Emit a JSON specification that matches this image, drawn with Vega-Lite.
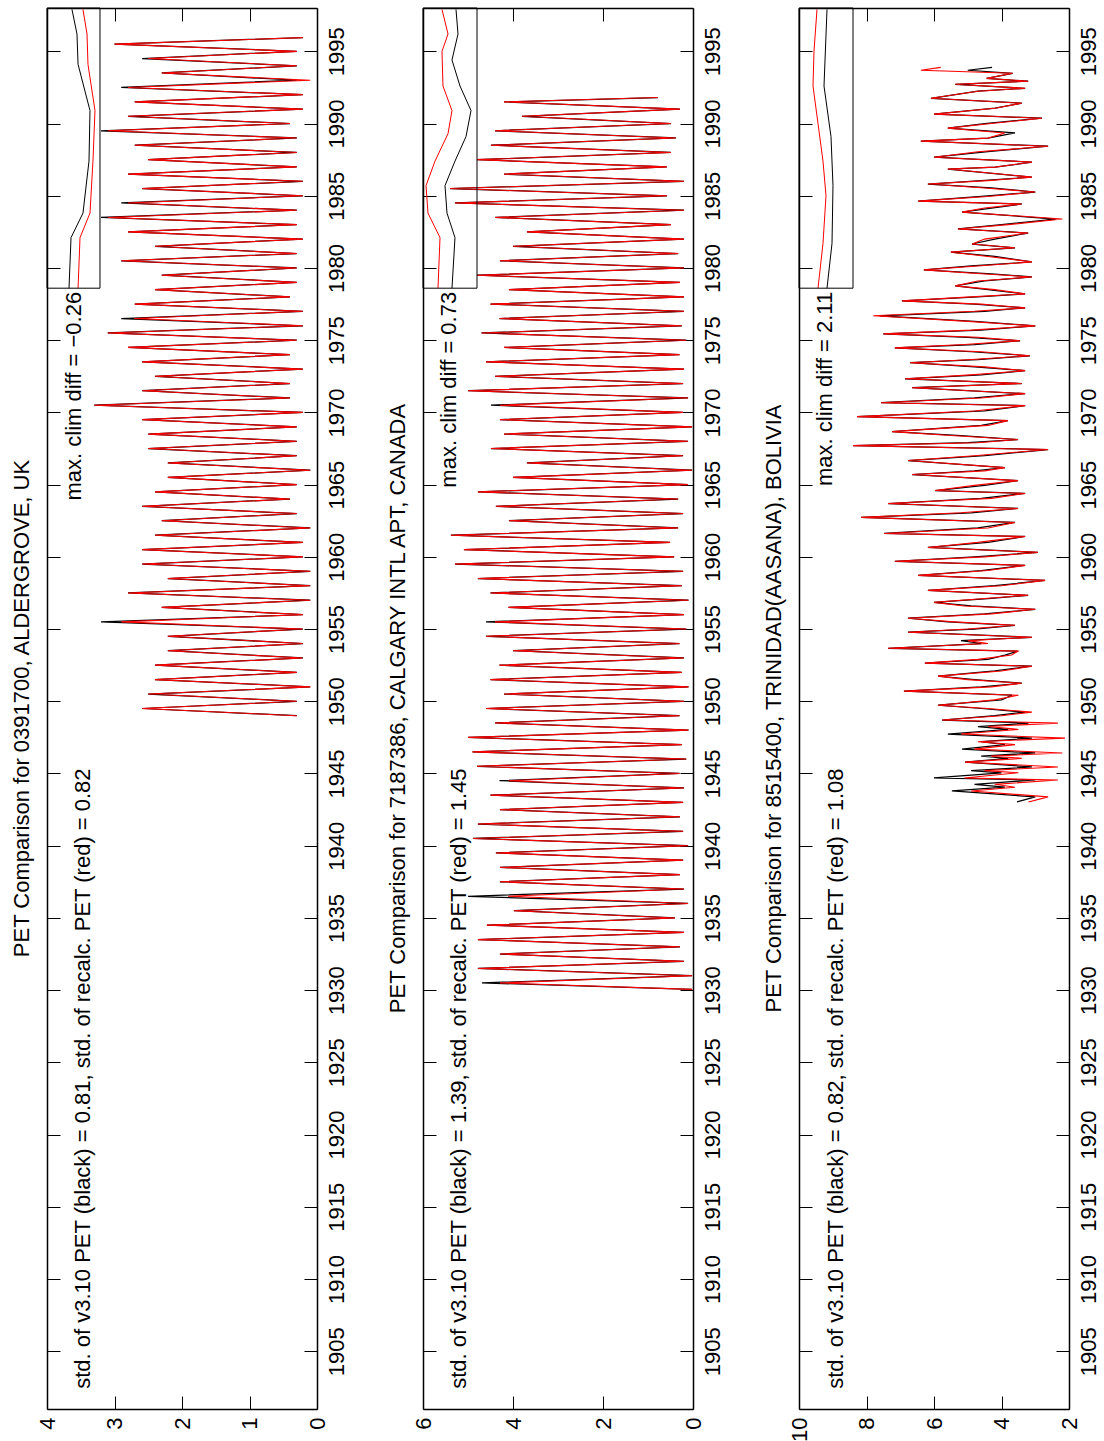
{
"$schema": "https://vega.github.io/schema/vega-lite/v6.json",
"padding": {"left": 10, "top": 7, "right": 0, "bottom": 0},
"background": "white",
"bounds": "flush",
"spacing": 106,
"config": {
  "font": "Liberation Sans",
  "view": {"stroke": null},
  "axis": {"grid": false, "title": null, "domainColor": "#000", "domainWidth": 1.5, "tickColor": "#000", "tickWidth": 1, "tickSize": -13, "labelFontSize": 22, "labelFont": "Liberation Sans", "labelColor": "#000", "labelFlush": false, "labelOverlap": false},
  "title": {"fontSize": 22, "fontWeight": "normal", "font": "Liberation Sans", "color": "#000"},
  "text": {"font": "Liberation Sans", "color": "#000"}
},
"datasets": {
"p1": [
{"t":1949,"b":0.3,"r":0.3},{"t":1949.5,"b":2.59,"r":2.59},{"t":1950,"b":0.3,"r":0.3},{"t":1950.5,"b":2.5,"r":2.5},{"t":1951,"b":0.1,"r":0.1},{"t":1951.5,"b":2.4,"r":2.4},{"t":1952,"b":0.3,"r":0.3},{"t":1952.5,"b":2.4,"r":2.4},{"t":1953,"b":0.21,"r":0.21},{"t":1953.5,"b":2.21,"r":2.21},{"t":1954,"b":0.21,"r":0.21},{"t":1954.5,"b":2.21,"r":2.21},{"t":1955,"b":0.21,"r":0.21},{"t":1955.5,"b":3.2,"r":2.9},{"t":1956,"b":0.21,"r":0.21},{"t":1956.5,"b":2.3,"r":2.3},{"t":1957,"b":0.1,"r":0.1},{"t":1957.5,"b":2.8,"r":2.8},{"t":1958,"b":0.1,"r":0.1},{"t":1958.5,"b":2.21,"r":2.21},{"t":1959,"b":0.1,"r":0.1},{"t":1959.5,"b":2.59,"r":2.59},{"t":1960,"b":0.21,"r":0.21},{"t":1960.5,"b":2.59,"r":2.59},{"t":1961,"b":0.21,"r":0.21},{"t":1961.5,"b":2.4,"r":2.4},{"t":1962,"b":0.1,"r":0.1},{"t":1962.5,"b":2.3,"r":2.3},{"t":1963,"b":0.3,"r":0.3},{"t":1963.5,"b":2.59,"r":2.59},{"t":1964,"b":0.4,"r":0.4},{"t":1964.5,"b":2.4,"r":2.4},{"t":1965,"b":0.3,"r":0.3},{"t":1965.5,"b":2.21,"r":2.21},{"t":1966,"b":0.1,"r":0.1},{"t":1966.5,"b":2.21,"r":2.21},{"t":1967,"b":0.3,"r":0.3},{"t":1967.5,"b":2.5,"r":2.5},{"t":1968,"b":0.3,"r":0.3},{"t":1968.5,"b":2.5,"r":2.5},{"t":1969,"b":0.3,"r":0.3},{"t":1969.5,"b":2.59,"r":2.59},{"t":1970,"b":0.21,"r":0.21},{"t":1970.5,"b":3.3,"r":3.3},{"t":1971,"b":0.4,"r":0.4},{"t":1971.5,"b":2.59,"r":2.59},{"t":1972,"b":0.4,"r":0.4},{"t":1972.5,"b":2.4,"r":2.4},{"t":1973,"b":0.21,"r":0.21},{"t":1973.5,"b":2.59,"r":2.59},{"t":1974,"b":0.4,"r":0.4},{"t":1974.5,"b":2.8,"r":2.8},{"t":1975,"b":0.3,"r":0.3},{"t":1975.5,"b":3.1,"r":3.1},{"t":1976,"b":0.21,"r":0.21},{"t":1976.5,"b":2.9,"r":2.71},{"t":1977,"b":0.21,"r":0.21},{"t":1977.5,"b":2.7,"r":2.7},{"t":1978,"b":0.4,"r":0.4},{"t":1978.5,"b":2.4,"r":2.4},{"t":1979,"b":0.3,"r":0.3},{"t":1979.5,"b":2.3,"r":2.3},{"t":1980,"b":0.3,"r":0.3},{"t":1980.5,"b":2.9,"r":2.9},{"t":1981,"b":0.3,"r":0.3},{"t":1981.5,"b":2.4,"r":2.4},{"t":1982,"b":0.21,"r":0.21},{"t":1982.5,"b":2.8,"r":2.8},{"t":1983,"b":0.3,"r":0.3},{"t":1983.5,"b":3.2,"r":3.1},{"t":1984,"b":0.3,"r":0.3},{"t":1984.5,"b":2.9,"r":2.8},{"t":1985,"b":0.21,"r":0.21},{"t":1985.5,"b":2.59,"r":2.59},{"t":1986,"b":0.21,"r":0.21},{"t":1986.5,"b":2.8,"r":2.8},{"t":1987,"b":0.3,"r":0.3},{"t":1987.5,"b":2.5,"r":2.5},{"t":1988,"b":0.3,"r":0.3},{"t":1988.5,"b":2.7,"r":2.7},{"t":1989,"b":0.3,"r":0.3},{"t":1989.5,"b":3.2,"r":3.1},{"t":1990,"b":0.4,"r":0.4},{"t":1990.5,"b":2.8,"r":2.8},{"t":1991,"b":0.21,"r":0.21},{"t":1991.5,"b":2.7,"r":2.7},{"t":1992,"b":0.21,"r":0.21},{"t":1992.5,"b":2.9,"r":2.8},{"t":1993,"b":0.3,"r":0.1},{"t":1993.5,"b":2.3,"r":2.3},{"t":1994,"b":0.3,"r":0.3},{"t":1994.5,"b":2.59,"r":2.5},{"t":1995,"b":0.3,"r":0.3},{"t":1995.5,"b":3.0,"r":3.0},{"t":1995.95,"b":0.21,"r":0.21}
],
"p2": [
{"t":1930.05,"b":0.02,"r":0.02},{"t":1930.5,"b":4.69,"r":4.29},{"t":1931,"b":0.02,"r":0.02},{"t":1931.5,"b":4.78,"r":4.78},{"t":1932,"b":0.2,"r":0.2},{"t":1932.5,"b":4.29,"r":4.29},{"t":1933,"b":0.29,"r":0.29},{"t":1933.5,"b":4.78,"r":4.78},{"t":1934,"b":0.2,"r":0.2},{"t":1934.5,"b":4.58,"r":4.58},{"t":1935,"b":0.4,"r":0.4},{"t":1935.5,"b":3.98,"r":3.98},{"t":1936,"b":0.11,"r":0.11},{"t":1936.5,"b":5.0,"r":4.11},{"t":1937,"b":0.2,"r":0.2},{"t":1937.5,"b":4.29,"r":4.29},{"t":1938,"b":0.29,"r":0.29},{"t":1938.5,"b":4.29,"r":4.29},{"t":1939,"b":0.22,"r":0.22},{"t":1939.5,"b":4.38,"r":4.38},{"t":1940,"b":0.11,"r":0.11},{"t":1940.5,"b":4.89,"r":4.89},{"t":1941,"b":0.22,"r":0.22},{"t":1941.5,"b":4.78,"r":4.78},{"t":1942,"b":0.29,"r":0.29},{"t":1942.5,"b":4.29,"r":4.29},{"t":1943,"b":0.22,"r":0.22},{"t":1943.5,"b":4.5,"r":4.5},{"t":1944,"b":0.2,"r":0.2},{"t":1944.5,"b":4.3,"r":4.1},{"t":1945,"b":0.3,"r":0.3},{"t":1945.5,"b":4.8,"r":4.8},{"t":1946,"b":0.15,"r":0.15},{"t":1946.5,"b":4.9,"r":4.9},{"t":1947,"b":0.25,"r":0.25},{"t":1947.5,"b":5.0,"r":5.0},{"t":1948,"b":0.1,"r":0.1},{"t":1948.5,"b":4.4,"r":4.4},{"t":1949,"b":0.3,"r":0.3},{"t":1949.5,"b":4.6,"r":4.6},{"t":1950,"b":0.2,"r":0.2},{"t":1950.5,"b":4.2,"r":4.2},{"t":1951,"b":0.1,"r":0.1},{"t":1951.5,"b":4.5,"r":4.5},{"t":1952,"b":0.25,"r":0.25},{"t":1952.5,"b":4.3,"r":4.3},{"t":1953,"b":0.2,"r":0.2},{"t":1953.5,"b":4.0,"r":4.0},{"t":1954,"b":0.3,"r":0.3},{"t":1954.5,"b":4.6,"r":4.6},{"t":1955,"b":0.15,"r":0.15},{"t":1955.5,"b":4.6,"r":4.4},{"t":1956,"b":0.2,"r":0.2},{"t":1956.5,"b":4.1,"r":4.1},{"t":1957,"b":0.1,"r":0.1},{"t":1957.5,"b":4.5,"r":4.5},{"t":1958,"b":0.25,"r":0.25},{"t":1958.5,"b":4.78,"r":4.78},{"t":1959,"b":0.22,"r":0.22},{"t":1959.5,"b":5.29,"r":5.29},{"t":1960,"b":0.42,"r":0.42},{"t":1960.5,"b":5.09,"r":5.09},{"t":1961,"b":0.51,"r":0.51},{"t":1961.5,"b":5.38,"r":5.38},{"t":1962,"b":0.33,"r":0.33},{"t":1962.5,"b":4.09,"r":4.09},{"t":1963,"b":0.22,"r":0.22},{"t":1963.5,"b":4.38,"r":4.38},{"t":1964,"b":0.33,"r":0.33},{"t":1964.5,"b":4.78,"r":4.78},{"t":1965,"b":0.11,"r":0.11},{"t":1965.5,"b":4.0,"r":4.0},{"t":1966,"b":0.02,"r":0.02},{"t":1966.5,"b":3.69,"r":3.69},{"t":1967,"b":0.22,"r":0.22},{"t":1967.5,"b":4.49,"r":4.49},{"t":1968,"b":0.11,"r":0.11},{"t":1968.5,"b":4.2,"r":4.2},{"t":1969,"b":0.02,"r":0.02},{"t":1969.5,"b":4.29,"r":4.29},{"t":1970,"b":0.22,"r":0.22},{"t":1970.5,"b":4.49,"r":4.29},{"t":1971,"b":0.11,"r":0.11},{"t":1971.5,"b":5.0,"r":5.0},{"t":1972,"b":0.22,"r":0.22},{"t":1972.5,"b":4.4,"r":4.4},{"t":1973,"b":0.2,"r":0.2},{"t":1973.5,"b":4.6,"r":4.6},{"t":1974,"b":0.3,"r":0.3},{"t":1974.5,"b":4.2,"r":4.2},{"t":1975,"b":0.15,"r":0.15},{"t":1975.5,"b":4.7,"r":4.7},{"t":1976,"b":0.25,"r":0.25},{"t":1976.5,"b":4.3,"r":4.3},{"t":1977,"b":0.2,"r":0.2},{"t":1977.5,"b":4.5,"r":4.5},{"t":1978,"b":0.2,"r":0.2},{"t":1978.5,"b":4.09,"r":4.09},{"t":1979,"b":0.29,"r":0.29},{"t":1979.5,"b":4.8,"r":4.8},{"t":1980,"b":0.2,"r":0.2},{"t":1980.5,"b":4.29,"r":4.29},{"t":1981,"b":0.33,"r":0.33},{"t":1981.5,"b":4.0,"r":4.0},{"t":1982,"b":0.2,"r":0.2},{"t":1982.5,"b":3.69,"r":3.69},{"t":1983,"b":0.49,"r":0.49},{"t":1983.5,"b":4.4,"r":4.4},{"t":1984,"b":0.2,"r":0.2},{"t":1984.5,"b":5.29,"r":5.29},{"t":1985,"b":0.58,"r":0.58},{"t":1985.5,"b":5.4,"r":5.4},{"t":1986,"b":0.2,"r":0.2},{"t":1986.5,"b":4.2,"r":4.2},{"t":1987,"b":0.58,"r":0.58},{"t":1987.5,"b":4.8,"r":4.8},{"t":1988,"b":0.49,"r":0.49},{"t":1988.5,"b":4.49,"r":4.49},{"t":1989,"b":0.38,"r":0.38},{"t":1989.5,"b":4.4,"r":4.4},{"t":1990,"b":0.49,"r":0.49},{"t":1990.5,"b":3.8,"r":3.8},{"t":1991,"b":0.29,"r":0.29},{"t":1991.5,"b":4.2,"r":4.2},{"t":1991.8,"b":0.78,"r":0.78}
],
"p3": [
{"t":1943.03,"b":3.54,"r":3.2},{"t":1943.38,"b":3.0,"r":2.62},{"t":1943.79,"b":5.47,"r":4.9},{"t":1944.05,"b":3.9,"r":3.6},{"t":1944.25,"b":4.8,"r":4.2},{"t":1944.55,"b":3.0,"r":2.33},{"t":1944.69,"b":6.0,"r":5.1},{"t":1945.05,"b":4.0,"r":3.5},{"t":1945.2,"b":4.9,"r":4.5},{"t":1945.45,"b":3.1,"r":2.33},{"t":1945.79,"b":5.08,"r":5.08},{"t":1946.05,"b":3.8,"r":3.4},{"t":1946.2,"b":4.6,"r":4.3},{"t":1946.42,"b":3.0,"r":2.2},{"t":1946.69,"b":5.17,"r":4.8},{"t":1947.0,"b":3.9,"r":3.6},{"t":1947.2,"b":4.6,"r":4.7},{"t":1947.45,"b":3.1,"r":2.12},{"t":1947.73,"b":5.59,"r":5.2},{"t":1948.05,"b":3.8,"r":3.5},{"t":1948.25,"b":4.7,"r":4.4},{"t":1948.49,"b":3.2,"r":2.33},{"t":1948.7,"b":5.76,"r":5.76},{"t":1949.0,"b":4.2,"r":4.0},{"t":1949.25,"b":3.3,"r":3.1},{"t":1949.5,"b":4.6,"r":4.4},{"t":1949.73,"b":5.88,"r":5.88},{"t":1950.1,"b":4.0,"r":4.2},{"t":1950.42,"b":3.69,"r":3.5},{"t":1950.7,"b":6.89,"r":6.89},{"t":1951.0,"b":4.6,"r":4.3},{"t":1951.25,"b":3.4,"r":3.4},{"t":1951.5,"b":4.8,"r":5.0},{"t":1951.74,"b":5.88,"r":5.88},{"t":1952.1,"b":4.2,"r":4.0},{"t":1952.43,"b":3.1,"r":3.1},{"t":1952.64,"b":6.27,"r":6.27},{"t":1952.9,"b":4.4,"r":4.7},{"t":1953.2,"b":3.9,"r":3.7},{"t":1953.47,"b":3.51,"r":3.51},{"t":1953.67,"b":7.36,"r":7.36},{"t":1954.0,"b":4.6,"r":4.4},{"t":1954.2,"b":5.2,"r":5.0},{"t":1954.43,"b":3.1,"r":3.1},{"t":1954.78,"b":6.77,"r":6.77},{"t":1955.0,"b":4.8,"r":5.0},{"t":1955.26,"b":3.6,"r":3.6},{"t":1955.5,"b":5.6,"r":5.4},{"t":1955.75,"b":6.77,"r":6.77},{"t":1956.05,"b":4.5,"r":4.3},{"t":1956.37,"b":3.0,"r":3.0},{"t":1956.6,"b":4.9,"r":5.1},{"t":1956.85,"b":6.0,"r":6.0},{"t":1957.1,"b":4.4,"r":4.6},{"t":1957.34,"b":3.21,"r":3.21},{"t":1957.68,"b":6.18,"r":6.18},{"t":1958.0,"b":4.2,"r":4.0},{"t":1958.37,"b":2.71,"r":2.71},{"t":1958.72,"b":6.47,"r":6.47},{"t":1959.05,"b":4.6,"r":4.4},{"t":1959.41,"b":3.3,"r":3.3},{"t":1959.69,"b":7.16,"r":7.16},{"t":1960.0,"b":4.8,"r":4.5},{"t":1960.31,"b":2.92,"r":2.92},{"t":1960.65,"b":6.18,"r":6.18},{"t":1961.0,"b":4.4,"r":4.7},{"t":1961.41,"b":3.3,"r":3.3},{"t":1961.62,"b":7.48,"r":7.48},{"t":1962.0,"b":4.7,"r":4.4},{"t":1962.38,"b":3.6,"r":3.6},{"t":1962.73,"b":8.16,"r":8.16},{"t":1963.05,"b":4.9,"r":5.2},{"t":1963.35,"b":3.51,"r":3.51},{"t":1963.69,"b":7.36,"r":7.36},{"t":1964.05,"b":4.6,"r":4.3},{"t":1964.39,"b":3.3,"r":3.3},{"t":1964.59,"b":5.97,"r":5.97},{"t":1964.95,"b":4.5,"r":4.8},{"t":1965.28,"b":3.51,"r":3.51},{"t":1965.7,"b":6.65,"r":6.65},{"t":1965.95,"b":4.8,"r":4.5},{"t":1966.18,"b":3.9,"r":3.9},{"t":1966.67,"b":6.77,"r":6.77},{"t":1967.0,"b":4.5,"r":4.8},{"t":1967.43,"b":2.62,"r":2.62},{"t":1967.7,"b":8.4,"r":8.4},{"t":1967.9,"b":5.0,"r":4.7},{"t":1968.12,"b":3.51,"r":3.51},{"t":1968.4,"b":5.2,"r":5.5},{"t":1968.67,"b":7.24,"r":7.24},{"t":1969.1,"b":4.6,"r":4.4},{"t":1969.43,"b":3.81,"r":3.81},{"t":1969.71,"b":8.28,"r":8.28},{"t":1970.1,"b":4.5,"r":4.8},{"t":1970.47,"b":3.3,"r":3.3},{"t":1970.67,"b":7.57,"r":7.57},{"t":1971.0,"b":4.8,"r":4.6},{"t":1971.3,"b":3.3,"r":3.3},{"t":1971.71,"b":6.65,"r":6.65},{"t":1972.0,"b":3.4,"r":3.4},{"t":1972.33,"b":6.86,"r":6.86},{"t":1972.6,"b":4.6,"r":4.9},{"t":1972.89,"b":3.3,"r":3.3},{"t":1973.15,"b":4.8,"r":4.5},{"t":1973.44,"b":6.71,"r":6.71},{"t":1973.65,"b":4.7,"r":5.0},{"t":1973.92,"b":3.16,"r":3.16},{"t":1974.2,"b":4.9,"r":4.6},{"t":1974.47,"b":7.16,"r":7.16},{"t":1974.7,"b":4.8,"r":5.1},{"t":1974.96,"b":3.45,"r":3.45},{"t":1975.2,"b":5.0,"r":4.7},{"t":1975.44,"b":7.5,"r":7.5},{"t":1975.7,"b":4.6,"r":4.9},{"t":1975.99,"b":3.0,"r":3.0},{"t":1976.3,"b":4.8,"r":5.0},{"t":1976.69,"b":7.6,"r":7.8},{"t":1977.0,"b":4.5,"r":4.8},{"t":1977.24,"b":3.3,"r":3.3},{"t":1977.5,"b":4.8,"r":4.6},{"t":1977.72,"b":6.95,"r":6.95},{"t":1978.0,"b":4.7,"r":4.9},{"t":1978.21,"b":3.3,"r":3.3},{"t":1978.5,"b":4.4,"r":4.2},{"t":1978.76,"b":5.37,"r":5.37},{"t":1979.1,"b":4.5,"r":4.7},{"t":1979.38,"b":3.1,"r":3.1},{"t":1979.6,"b":4.3,"r":4.6},{"t":1979.87,"b":6.3,"r":6.3},{"t":1980.15,"b":4.9,"r":4.6},{"t":1980.42,"b":3.1,"r":3.1},{"t":1980.8,"b":4.2,"r":4.4},{"t":1981.1,"b":5.5,"r":5.5},{"t":1981.4,"b":3.6,"r":3.6},{"t":1981.66,"b":4.87,"r":4.87},{"t":1982.0,"b":4.2,"r":4.5},{"t":1982.42,"b":3.21,"r":3.21},{"t":1982.7,"b":5.29,"r":5.29},{"t":1983.0,"b":4.0,"r":3.8},{"t":1983.39,"b":2.4,"r":2.2},{"t":1983.87,"b":5.17,"r":5.17},{"t":1984.15,"b":4.3,"r":4.5},{"t":1984.43,"b":3.4,"r":3.4},{"t":1984.63,"b":6.47,"r":6.47},{"t":1984.95,"b":4.6,"r":4.4},{"t":1985.26,"b":3.0,"r":3.0},{"t":1985.55,"b":4.3,"r":4.6},{"t":1985.81,"b":6.18,"r":6.18},{"t":1986.05,"b":4.6,"r":4.4},{"t":1986.29,"b":3.1,"r":3.1},{"t":1986.85,"b":5.59,"r":5.59},{"t":1986.98,"b":4.19,"r":4.19},{"t":1987.33,"b":3.1,"r":3.1},{"t":1987.67,"b":6.0,"r":6.0},{"t":1988.05,"b":4.4,"r":4.7},{"t":1988.43,"b":2.62,"r":2.62},{"t":1988.78,"b":6.39,"r":6.39},{"t":1988.99,"b":4.4,"r":4.4},{"t":1989.35,"b":3.6,"r":3.9},{"t":1989.68,"b":5.59,"r":5.59},{"t":1990.0,"b":4.5,"r":4.3},{"t":1990.37,"b":2.8,"r":2.8},{"t":1990.65,"b":6.0,"r":6.0},{"t":1991.06,"b":4.19,"r":4.19},{"t":1991.41,"b":3.4,"r":3.4},{"t":1991.75,"b":6.09,"r":6.09},{"t":1992.24,"b":4.7,"r":4.7},{"t":1992.44,"b":3.3,"r":3.3},{"t":1992.72,"b":5.37,"r":5.37},{"t":1992.93,"b":3.21,"r":3.21},{"t":1993.13,"b":4.44,"r":4.44},{"t":1993.48,"b":3.67,"r":3.67},{"t":1993.69,"b":5.0,"r":6.39},{"t":1993.89,"b":4.28,"r":5.8}
],
"i1": [
{"s":"b","t":1997.9,"v":3.63},{"s":"b","t":1996.2,"v":3.556},{"s":"b","t":1994.1,"v":3.54},{"s":"b","t":1990.9,"v":3.363},{"s":"b","t":1987.4,"v":3.378},{"s":"b","t":1983.8,"v":3.467},{"s":"b","t":1982.1,"v":3.644},{"s":"b","t":1978.6,"v":3.674},
{"s":"r","t":1997.9,"v":3.467},{"s":"r","t":1996.2,"v":3.407},{"s":"r","t":1994.1,"v":3.393},{"s":"r","t":1990.9,"v":3.289},{"s":"r","t":1987.4,"v":3.319},{"s":"r","t":1983.8,"v":3.363},{"s":"r","t":1982.1,"v":3.511},{"s":"r","t":1978.6,"v":3.54}
],
"i2": [
{"s":"b","t":1997.9,"v":5.267},{"s":"b","t":1996.2,"v":5.222},{"s":"b","t":1994.4,"v":5.356},{"s":"b","t":1992.6,"v":5.178},{"s":"b","t":1990.9,"v":4.933},{"s":"b","t":1989.1,"v":5.044},{"s":"b","t":1987.4,"v":5.289},{"s":"b","t":1985.7,"v":5.511},{"s":"b","t":1983.8,"v":5.467},{"s":"b","t":1982.1,"v":5.289},{"s":"b","t":1978.6,"v":5.356},
{"s":"r","t":1997.9,"v":5.578},{"s":"r","t":1996.2,"v":5.444},{"s":"r","t":1995.0,"v":5.578},{"s":"r","t":1992.6,"v":5.556},{"s":"r","t":1990.9,"v":5.356},{"s":"r","t":1989.3,"v":5.444},{"s":"r","t":1987.4,"v":5.733},{"s":"r","t":1985.7,"v":5.933},{"s":"r","t":1983.8,"v":5.889},{"s":"r","t":1982.1,"v":5.622},{"s":"r","t":1978.6,"v":5.667}
],
"i3": [
{"s":"b","t":1997.9,"v":9.17},{"s":"b","t":1992.6,"v":9.259},{"s":"b","t":1989.1,"v":9.052},{"s":"b","t":1985.7,"v":8.993},{"s":"b","t":1981.7,"v":9.022},{"s":"b","t":1978.6,"v":9.17},
{"s":"r","t":1997.9,"v":9.467},{"s":"r","t":1995.0,"v":9.556},{"s":"r","t":1992.6,"v":9.585},{"s":"r","t":1990.0,"v":9.437},{"s":"r","t":1987.4,"v":9.289},{"s":"r","t":1985.0,"v":9.2},{"s":"r","t":1981.7,"v":9.289},{"s":"r","t":1978.6,"v":9.437}
]
},
"hconcat": [
{
 "width": 270, "height": 1401,
 "title": {"text": "PET Comparison for 0391700, ALDERGROVE, UK", "orient": "left", "anchor": "middle", "offset": 2},
 "layer": [
  {"data": {"name": "p1"}, "mark": {"type": "line", "clip": true, "color": "#000000", "strokeWidth": 1.25},
   "encoding": {
    "x": {"field": "b", "type": "quantitative", "scale": {"domain": [0, 4], "reverse": true, "nice": false, "zero": false}, "axis": {"orient": "bottom", "values": [0, 1, 2, 3, 4], "labelAngle": 270, "labelAlign": "right", "labelBaseline": "middle", "labelPadding": 21}},
    "y": {"field": "t", "type": "quantitative", "scale": {"domain": [1901, 1998], "nice": false, "zero": false}, "axis": {"orient": "right", "values": [1905,1910,1915,1920,1925,1930,1935,1940,1945,1950,1955,1960,1965,1970,1975,1980,1985,1990,1995], "format": "d", "labelAngle": 270, "labelAlign": "center", "labelBaseline": "top", "labelPadding": 22}},
    "order": {"field": "t", "type": "quantitative"}
   }},
  {"data": {"name": "p1"}, "mark": {"type": "line", "clip": true, "color": "#ff0000", "strokeWidth": 1.1},
   "encoding": {
    "x": {"field": "r", "type": "quantitative", "axis": {"orient": "top", "values": [0, 1, 2, 3, 4], "labels": false}},
    "y": {"field": "t", "type": "quantitative", "axis": {"orient": "left", "values": [1905,1910,1915,1920,1925,1930,1935,1940,1945,1950,1955,1960,1965,1970,1975,1980,1985,1990,1995], "labels": false}},
    "order": {"field": "t", "type": "quantitative"}
   }},
  {"data": {"name": "i1"}, "mark": {"type": "line", "clip": true, "strokeWidth": 1},
   "encoding": {
    "x": {"field": "v", "type": "quantitative", "axis": null},
    "y": {"field": "t", "type": "quantitative", "axis": null},
    "color": {"field": "s", "type": "nominal", "scale": {"domain": ["b", "r"], "range": ["#000000", "#ff0000"]}, "legend": null},
    "order": {"field": "t", "type": "quantitative"}
   }},
  {"data": {"values": [{"v": 4, "v2": 3.215, "t": 1978.6, "t2": 1998}]}, "mark": {"type": "rect", "filled": false, "color": "#000", "strokeWidth": 1},
   "encoding": {"x": {"field": "v", "type": "quantitative", "axis": null}, "x2": {"field": "v2"}, "y": {"field": "t", "type": "quantitative", "axis": null}, "y2": {"field": "t2"}}},
  {"data": {"values": [{"v": 3.363, "t": 1902.4, "txt": "std. of v3.10 PET (black) = 0.81, std. of recalc. PET (red) = 0.82"}]}, "mark": {"type": "text", "angle": 270, "align": "left", "baseline": "alphabetic", "fontSize": 22},
   "encoding": {"x": {"field": "v", "type": "quantitative", "axis": null}, "y": {"field": "t", "type": "quantitative", "axis": null}, "text": {"field": "txt"}}},
  {"data": {"values": [{"v": 3.497, "t": 1978.35, "txt": "max. clim diff = −0.26"}]}, "mark": {"type": "text", "angle": 270, "align": "right", "baseline": "alphabetic", "fontSize": 22},
   "encoding": {"x": {"field": "v", "type": "quantitative", "axis": null}, "y": {"field": "t", "type": "quantitative", "axis": null}, "text": {"field": "txt"}}}
 ]
},
{
 "width": 270, "height": 1401,
 "title": {"text": "PET Comparison for 7187386, CALGARY INTL APT, CANADA", "orient": "left", "anchor": "middle", "offset": 2},
 "layer": [
  {"data": {"name": "p2"}, "mark": {"type": "line", "clip": true, "color": "#000000", "strokeWidth": 1.25},
   "encoding": {
    "x": {"field": "b", "type": "quantitative", "scale": {"domain": [0, 6], "reverse": true, "nice": false, "zero": false}, "axis": {"orient": "bottom", "values": [0, 2, 4, 6], "labelAngle": 270, "labelAlign": "right", "labelBaseline": "middle", "labelPadding": 21}},
    "y": {"field": "t", "type": "quantitative", "scale": {"domain": [1901, 1998], "nice": false, "zero": false}, "axis": {"orient": "right", "values": [1905,1910,1915,1920,1925,1930,1935,1940,1945,1950,1955,1960,1965,1970,1975,1980,1985,1990,1995], "format": "d", "labelAngle": 270, "labelAlign": "center", "labelBaseline": "top", "labelPadding": 22}},
    "order": {"field": "t", "type": "quantitative"}
   }},
  {"data": {"name": "p2"}, "mark": {"type": "line", "clip": true, "color": "#ff0000", "strokeWidth": 1.1},
   "encoding": {
    "x": {"field": "r", "type": "quantitative", "axis": {"orient": "top", "values": [0, 2, 4, 6], "labels": false}},
    "y": {"field": "t", "type": "quantitative", "axis": {"orient": "left", "values": [1905,1910,1915,1920,1925,1930,1935,1940,1945,1950,1955,1960,1965,1970,1975,1980,1985,1990,1995], "labels": false}},
    "order": {"field": "t", "type": "quantitative"}
   }},
  {"data": {"name": "i2"}, "mark": {"type": "line", "clip": true, "strokeWidth": 1},
   "encoding": {
    "x": {"field": "v", "type": "quantitative", "axis": null},
    "y": {"field": "t", "type": "quantitative", "axis": null},
    "color": {"field": "s", "type": "nominal", "scale": {"domain": ["b", "r"], "range": ["#000000", "#ff0000"]}, "legend": null},
    "order": {"field": "t", "type": "quantitative"}
   }},
  {"data": {"values": [{"v": 6, "v2": 4.8, "t": 1978.6, "t2": 1998}]}, "mark": {"type": "rect", "filled": false, "color": "#000", "strokeWidth": 1},
   "encoding": {"x": {"field": "v", "type": "quantitative", "axis": null}, "x2": {"field": "v2"}, "y": {"field": "t", "type": "quantitative", "axis": null}, "y2": {"field": "t2"}}},
  {"data": {"values": [{"v": 5.044, "t": 1902.4, "txt": "std. of v3.10 PET (black) = 1.39, std. of recalc. PET (red) = 1.45"}]}, "mark": {"type": "text", "angle": 270, "align": "left", "baseline": "alphabetic", "fontSize": 22},
   "encoding": {"x": {"field": "v", "type": "quantitative", "axis": null}, "y": {"field": "t", "type": "quantitative", "axis": null}, "text": {"field": "txt"}}},
  {"data": {"values": [{"v": 5.266, "t": 1978.35, "txt": "max. clim diff = 0.73"}]}, "mark": {"type": "text", "angle": 270, "align": "right", "baseline": "alphabetic", "fontSize": 22},
   "encoding": {"x": {"field": "v", "type": "quantitative", "axis": null}, "y": {"field": "t", "type": "quantitative", "axis": null}, "text": {"field": "txt"}}}
 ]
},
{
 "width": 270, "height": 1401,
 "title": {"text": "PET Comparison for 8515400, TRINIDAD(AASANA), BOLIVIA", "orient": "left", "anchor": "middle", "offset": 2},
 "layer": [
  {"data": {"name": "p3"}, "mark": {"type": "line", "clip": true, "color": "#000000", "strokeWidth": 1.25},
   "encoding": {
    "x": {"field": "b", "type": "quantitative", "scale": {"domain": [2, 10], "reverse": true, "nice": false, "zero": false}, "axis": {"orient": "bottom", "values": [2, 4, 6, 8, 10], "labelAngle": 270, "labelAlign": "right", "labelBaseline": "middle", "labelPadding": 21}},
    "y": {"field": "t", "type": "quantitative", "scale": {"domain": [1901, 1998], "nice": false, "zero": false}, "axis": {"orient": "right", "values": [1905,1910,1915,1920,1925,1930,1935,1940,1945,1950,1955,1960,1965,1970,1975,1980,1985,1990,1995], "format": "d", "labelAngle": 270, "labelAlign": "center", "labelBaseline": "top", "labelPadding": 22}},
    "order": {"field": "t", "type": "quantitative"}
   }},
  {"data": {"name": "p3"}, "mark": {"type": "line", "clip": true, "color": "#ff0000", "strokeWidth": 1.1},
   "encoding": {
    "x": {"field": "r", "type": "quantitative", "axis": {"orient": "top", "values": [2, 4, 6, 8, 10], "labels": false}},
    "y": {"field": "t", "type": "quantitative", "axis": {"orient": "left", "values": [1905,1910,1915,1920,1925,1930,1935,1940,1945,1950,1955,1960,1965,1970,1975,1980,1985,1990,1995], "labels": false}},
    "order": {"field": "t", "type": "quantitative"}
   }},
  {"data": {"name": "i3"}, "mark": {"type": "line", "clip": true, "strokeWidth": 1},
   "encoding": {
    "x": {"field": "v", "type": "quantitative", "axis": null},
    "y": {"field": "t", "type": "quantitative", "axis": null},
    "color": {"field": "s", "type": "nominal", "scale": {"domain": ["b", "r"], "range": ["#000000", "#ff0000"]}, "legend": null},
    "order": {"field": "t", "type": "quantitative"}
   }},
  {"data": {"values": [{"v": 10, "v2": 8.4, "t": 1978.6, "t2": 1998}]}, "mark": {"type": "rect", "filled": false, "color": "#000", "strokeWidth": 1},
   "encoding": {"x": {"field": "v", "type": "quantitative", "axis": null}, "x2": {"field": "v2"}, "y": {"field": "t", "type": "quantitative", "axis": null}, "y2": {"field": "t2"}}},
  {"data": {"values": [{"v": 8.696, "t": 1902.4, "txt": "std. of v3.10 PET (black) = 0.82, std. of recalc. PET (red) = 1.08"}]}, "mark": {"type": "text", "angle": 270, "align": "left", "baseline": "alphabetic", "fontSize": 22},
   "encoding": {"x": {"field": "v", "type": "quantitative", "axis": null}, "y": {"field": "t", "type": "quantitative", "axis": null}, "text": {"field": "txt"}}},
  {"data": {"values": [{"v": 9.022, "t": 1978.35, "txt": "max. clim diff = 2.11"}]}, "mark": {"type": "text", "angle": 270, "align": "right", "baseline": "alphabetic", "fontSize": 22},
   "encoding": {"x": {"field": "v", "type": "quantitative", "axis": null}, "y": {"field": "t", "type": "quantitative", "axis": null}, "text": {"field": "txt"}}}
 ]
}
]
}
